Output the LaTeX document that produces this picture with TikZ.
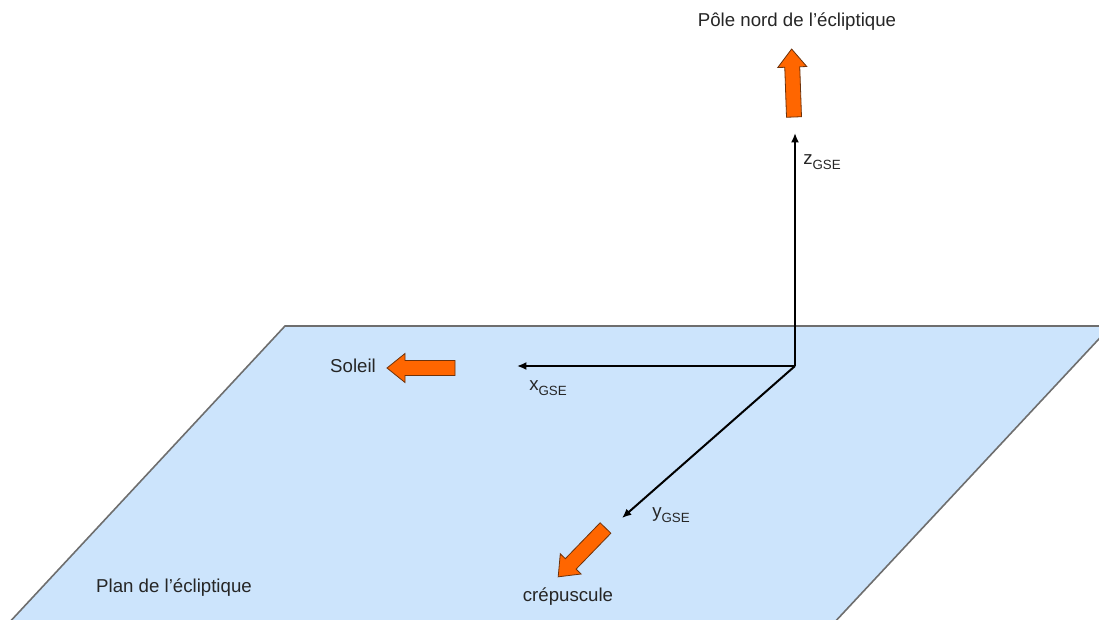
\documentclass[tikz,border=0pt]{standalone}
\usepackage{fontspec}
\setmainfont{Liberation Sans}
\usetikzlibrary{arrows.meta}
\definecolor{planefill}{RGB}{204,228,252}
\definecolor{planeline}{RGB}{110,110,110}
\definecolor{orangefill}{RGB}{255,102,0}
\definecolor{orangeline}{RGB}{110,50,10}
\newcommand{\gse}[1]{#1\raisebox{-0.45ex}{\fontsize{10}{11}\selectfont GSE}}
\tikzset{
  axis/.style={line width=1.5pt,-{Latex[length=7pt,width=6pt]}},
  orangearrow/.pic={
    \draw[draw=orangeline, fill=orangefill, line width=0.6pt, line join=miter]
      (0,-7.5) -- (50,-7.5) -- (50,-14.5) -- (68,0) -- (50,14.5) -- (50,7.5) -- (0,7.5) -- cycle;
  },
  lbl/.style={font=\fontsize{14}{16}\selectfont, text=black!85, inner sep=0pt},
}
\begin{document}
\begin{tikzpicture}[x=0.75pt,y=-0.75pt]
\useasboundingbox (0,0) rectangle (1099,620);
\fill[white] (0,0) rectangle (1099,620);
\begin{scope}
\clip (0,0) rectangle (1099,620);
\draw[fill=planefill, draw=planeline, line width=1.2pt] (285,326) -- (1111,326) -- (818,640) -- (-7,640) -- cycle;
\end{scope}
% axes
\coordinate (O) at (795,366);
\coordinate (zt) at (795,133);
\coordinate (xt) at (517,366);
\coordinate (yt) at (622,518);
\draw[axis] (O) -- (zt);
\draw[axis] (O) -- (xt);
\draw[axis] (O) -- (yt);
% orange arrows
\pic[rotate=92] (nordarrow) at (794,117) {orangearrow};
\pic[rotate=180] (soleilarrow) at (455,368) {orangearrow};
\pic[rotate=225.9] (crepuarrow) at (605.5,528) {orangearrow};
% labels
\node[lbl] (pole) at (797,22) {Pôle nord de l'écliptique};
\node[lbl, anchor=west] (zlab) at (803,162) {\gse{z}};
\node[lbl, anchor=west] (xlab) at (529,388) {\gse{x}};
\node[lbl, anchor=west] (ylab) at (652,515) {\gse{y}};
\node[lbl] (soleil) at (353,366) {Soleil};
\node[lbl] (crepu) at (568,597) {crépuscule};
\node[lbl] (plan) at (174,588) {Plan de l'écliptique};
\end{tikzpicture}
\end{document}
